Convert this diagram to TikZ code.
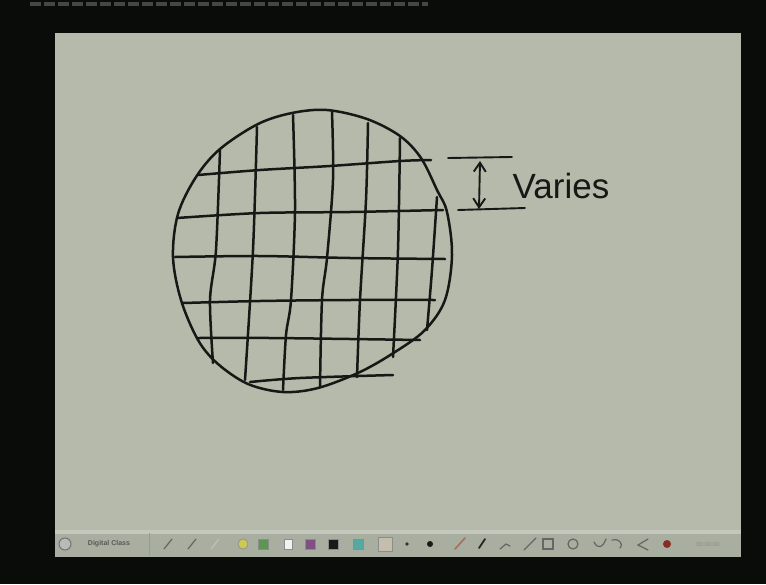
\documentclass[tikz,border=0pt]{standalone}
\usepackage{xcolor}
\usepackage{fontspec}
\setmainfont{Liberation Sans}
\usetikzlibrary{arrows.meta}

\definecolor{frame}{RGB}{10,12,10}
\definecolor{board}{RGB}{181,186,170}
\definecolor{barcol}{RGB}{168,174,160}
\definecolor{barlight}{RGB}{196,200,188}
\definecolor{ink}{RGB}{22,24,22}
\definecolor{swyellow}{RGB}{206,200,84}
\definecolor{swgreen}{RGB}{92,150,82}
\definecolor{swpurple}{RGB}{128,80,130}
\definecolor{swcyan}{RGB}{84,170,160}
\definecolor{swbeige}{RGB}{198,190,172}
\definecolor{pencilred}{RGB}{170,110,95}
\definecolor{recred}{RGB}{135,45,35}

\tikzset{
  pen/.style={line width=2.5pt, ink, line cap=round, line join=round},
  icon/.style={line width=1.2pt, black!60, line cap=round},
  swatch/.style={draw=black!45, line width=0.6pt}
}

\begin{document}
\begin{tikzpicture}[x=1pt, y=-1pt]
    % Screen frame
    \useasboundingbox (0,0) rectangle (766,584);
    \fill[frame] (0,0) rectangle (766,584);
    \draw[line width=4pt, gray!55!black, dash pattern=on 11pt off 3pt] (30,4) -- (428,4);

    % Board
    \fill[board] (55,33) rectangle (741,530);

    % Toolbar
    \fill[barcol] (55,530) rectangle (741,557);
    \fill[barlight] (55,530) rectangle (741,534);
    \draw[black!40, line width=0.8pt] (149,533) -- (149,555);

    % Logo and title
    \draw[black!55, fill=gray!55, line width=1pt] (65,544) circle (6);
    \node[font=\bfseries\fontsize{7}{7}\selectfont, text=black!65] (title) at (109,544) {Digital Class};

    % Pen icons
    \draw[icon] (164,549) -- (172,539);
    \draw[icon] (188,549) -- (196,539);
    \draw[icon, black!25] (211,549) -- (219,539);

    % Colour swatches
    \filldraw[swatch, fill=swyellow] (243,544) circle (5);
    \filldraw[swatch, fill=swgreen] (258,539) rectangle (268,549);
    \filldraw[swatch, fill=white!90!gray] (284,539) rectangle (292,549);
    \filldraw[swatch, fill=swpurple] (305,539) rectangle (315,549);
    \filldraw[swatch, fill=black!90] (328,539) rectangle (338,549);
    \filldraw[swatch, fill=swcyan] (353,539) rectangle (363,549);
    \filldraw[swatch, fill=swbeige] (378,537) rectangle (392,551);

    % Pen sizes
    \fill[black!80] (407,544) circle (1.8);
    \fill[black!90] (430,544) circle (3);

    % Drawing tools
    \draw[icon, pencilred, line width=1.6pt] (455,549) -- (465,538);
    \draw[icon, black!85, line width=1.8pt] (479,548) -- (485,539);
    \draw[icon] (500,549) -- (506,544) -- (510,546);
    \draw[icon] (524,550) -- (536,538);
    \draw[icon] (543,539) rectangle (553,549);
    \draw[icon] (573,544) circle (5);
    \draw[icon] (594,542) .. controls (598,550) and (603,547) .. (606,539);
    \draw[icon] (612,540) .. controls (618,538) and (624,543) .. (620,548);
    \draw[icon] (648,539) -- (638,545) -- (648,550);
    \fill[recred] (667,544) circle (4);
    \node[font=\fontsize{6}{6}\selectfont, text=black!45] (clock) at (708,544) {00:00:00};

    % Circle
    \draw[pen] plot[smooth cycle, tension=0.55] coordinates {
        (327,110) (367,119) (400,136) (421,158) (437,190) (447,212)
        (452,255) (445,300) (425,330) (395,352) (360,372) (318,388)
        (283,392) (248,384) (218,364) (198,340) (181,300) (173,257)
        (178,214) (196,177) (220,149) (258,124) (292,113)};

    % Horizontal grid lines
    \draw[pen] plot[smooth] coordinates {(198,175) (260,170) (330,166) (400,161) (431,160)};
    \draw[pen] plot[smooth] coordinates {(177,218) (260,213) (350,212) (443,210)};
    \draw[pen] plot[smooth] coordinates {(175,257) (260,256) (350,258) (445,259)};
    \draw[pen] plot[smooth] coordinates {(183,303) (260,301) (350,300) (435,300)};
    \draw[pen] plot[smooth] coordinates {(198,338) (270,338) (350,339) (420,340)};
    \draw[pen] plot[smooth] coordinates {(250,382) (300,378) (393,375)};

    % Vertical grid lines
    \draw[pen] plot[smooth] coordinates {(220,150) (216,250) (210,300) (213,363)};
    \draw[pen] plot[smooth] coordinates {(257,127) (253,250) (245,380)};
    \draw[pen] plot[smooth] coordinates {(293,115) (295,210) (291,300) (286,335) (283,390)};
    \draw[pen] plot[smooth] coordinates {(332,112) (333,180) (327,258) (322,300) (320,387)};
    \draw[pen] plot[smooth] coordinates {(368,123) (366,200) (360,300) (357,377)};
    \draw[pen] plot[smooth] coordinates {(400,138) (398,250) (393,357)};
    \draw[pen] plot[smooth] coordinates {(437,197) (432,270) (427,330)};

    % Spacing marks
    \draw[pen, line width=1.9pt] (448,158) -- (512,157);
    \draw[pen, line width=1.9pt] (458,210) -- (525,208);
    \coordinate (vtop) at (480,161);
    \coordinate (vbot) at (479,209);
    \draw[pen, line width=1.9pt, {Straight Barb[length=9pt,width=12pt]}-{Straight Barb[length=9pt,width=12pt]}] (vtop) -- (vbot);

    % Label
    \node[font=\fontsize{35}{35}\selectfont, text=ink, inner sep=0pt] (varies) at (561,186) {Varies};
\end{tikzpicture}
\end{document}
